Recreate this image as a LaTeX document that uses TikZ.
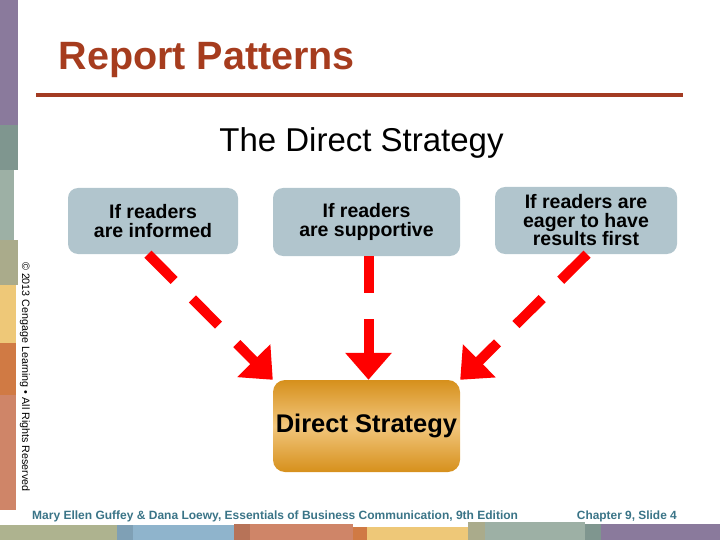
\documentclass[tikz,border=0pt]{standalone}
\usepackage{fontspec}
\setmainfont{Liberation Sans}
\usepackage{tikz}
\usetikzlibrary{arrows.meta,positioning}
\definecolor{titlered}{HTML}{A63C1E}
\definecolor{rulered}{HTML}{A33B22}
\definecolor{boxgray}{HTML}{B1C5CD}
\definecolor{footteal}{HTML}{3A7487}
\definecolor{arrowred}{HTML}{FF0000}
\definecolor{goldedge}{HTML}{D6901C}
\definecolor{goldmid}{HTML}{F2C67C}
\definecolor{stpurple}{HTML}{8A7A9C}
\definecolor{stslate}{HTML}{7F968F}
\definecolor{stsage}{HTML}{9DB0A5}
\definecolor{stolive}{HTML}{AAAB8B}
\definecolor{styellow}{HTML}{EEC878}
\definecolor{storange}{HTML}{D07A44}
\definecolor{stsalmon}{HTML}{CF8568}
\definecolor{stblue}{HTML}{8FB4CC}
\definecolor{ststeel}{HTML}{7FA0B5}
\definecolor{stbrown}{HTML}{B77358}
\definecolor{stgreen}{HTML}{AEB38F}

\begin{document}
\begin{tikzpicture}[
  x=1pt,y=-1pt,
  cond/.style={fill=boxgray, rounded corners=10pt, align=center, inner sep=0pt,
    font=\bfseries\fontsize{19.5}{18.5}\selectfont},
  goal/.style={top color=goldedge, bottom color=goldedge, middle color=goldmid,
    rounded corners=12pt, inner sep=0pt, minimum width=187pt, minimum height=92pt,
    font=\bfseries\fontsize{25.5}{26}\selectfont},
  flow/.style={draw=arrowred, line width=10pt, dash pattern=on 37pt off 26pt,
    -{Triangle[length=27pt,width=45pt]}}
  ]
  \useasboundingbox (0,0) rectangle (720,540);
  % side and bottom bands
  \foreach \c/\xa/\ya/\xb/\yb in {
      stpurple/0/0/18/125, stslate/0/125/18/170, stsage/0/170/14/240,
      stolive/0/240/18/285, styellow/0/285/16/343, storange/0/343/16/395,
      stsalmon/0/395/16/510,
      stgreen/0/525/117/540, ststeel/117/525/133/540, stblue/133/525/234/540,
      stbrown/234/524/250/540, stsalmon/250/524/353/540,
      storange/353/527/367/540, styellow/367/527/468/540,
      stolive/468/522/485/540, stsage/485/522/585/540,
      stslate/585/524/601/540, stpurple/601/524/720/540}
    \fill[\c] (\xa,\ya) rectangle (\xb,\yb);

  \node[anchor=base west, text=titlered, font=\bfseries\fontsize{39.5}{40}\selectfont]
    (title) at (55,70) {Report Patterns};
  \draw[rulered, line width=4pt] (36,95) -- (683,95);
  \node[anchor=base, font=\fontsize{33}{34}\selectfont] (sub) at (361.5,152) {The Direct Strategy};

  \node[cond, minimum width=170pt, minimum height=66pt] (informed) at (153,221)
    {If readers\\are informed};
  \node[cond, minimum width=187pt, minimum height=68pt] (supportive) at (366.5,222)
    {If readers\\are supportive};
  \node[cond, minimum width=182pt, minimum height=67pt] (eager) at (586,220.5)
    {If readers are\\eager to have\\results first};
  \node[goal] (ds) at (366.5,426) {Direct Strategy};

  \draw[flow] ([xshift=-5pt]informed.south) -- (ds.north west);
  \draw[flow] ([xshift=2pt]supportive.south) -- ([xshift=2pt]ds.north);
  \draw[flow] ([xshift=1pt]eager.south) -- (ds.north east);

  \node[rotate=-90, anchor=west, inner sep=0pt, font=\fontsize{10.7}{10.7}\selectfont]
    (copy) at (25,262) {© 2013 Cengage Learning • All Rights Reserved};
  \node[anchor=base west, inner sep=0pt, text=footteal, font=\bfseries\fontsize{12}{12}\selectfont]
    (cite) at (32,519) {Mary Ellen Guffey \& Dana Loewy, Essentials of Business Communication, 9th Edition};
  \node[anchor=base east, inner sep=0pt, text=footteal, font=\bfseries\fontsize{11.9}{12}\selectfont]
    (slide) at (677,519) {Chapter 9, Slide 4};
\end{tikzpicture}
\end{document}
